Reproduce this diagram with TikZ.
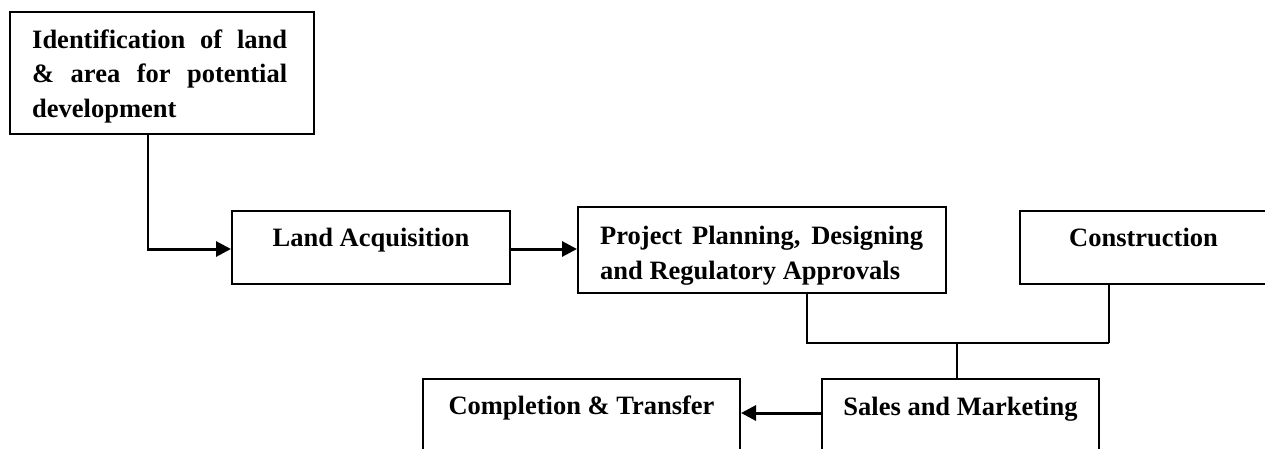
\documentclass[tikz,border=0pt]{standalone}
\usepackage{fontspec}
\setmainfont{Liberation Serif}
\usetikzlibrary{arrows.meta}
\begin{document}
\begin{tikzpicture}[x=1pt,y=-1pt,
  box/.style={draw, line width=2pt, rectangle, inner sep=0pt},
  lbl/.style={inner sep=0pt, font=\fontsize{26.5pt}{34.5pt}\selectfont\bfseries},
  arr/.style={line width=3pt, -{Triangle[length=15pt,width=15pt]}},
  conn/.style={line width=1.8pt}]
\useasboundingbox (0,0) rectangle (1265,448);
\clip (0,0) rectangle (1265,448);
\fill[white] (0,0) rectangle (1265,448);
% boxes
\node[box, minimum width=304pt, minimum height=122pt] (ident) at (162,73) {};
\node[box, minimum width=278pt, minimum height=73pt] (land) at (371,247.5) {};
\node[box, minimum width=368pt, minimum height=86pt] (proj) at (762,250) {};
\node[box, minimum width=250pt, minimum height=73pt] (con) at (1145,247.5) {};
\node[box, minimum width=277pt, minimum height=81pt] (sales) at (960.5,419.5) {};
\node[box, minimum width=317pt, minimum height=81pt] (comp) at (581.5,419.5) {};
% texts
\node[lbl, anchor=base west, align=left] at (32,117)
  {\makebox[255pt][s]{Identification of land}\\\makebox[255pt][s]{\& area for potential}\\development};
\node[lbl, anchor=base] at (371,246) {Land Acquisition};
\node[lbl, anchor=base west, align=left] at (600,279)
  {\makebox[323pt][s]{Project Planning, Designing}\\and Regulatory Approvals};
\node[lbl, anchor=base] at (1143.5,246) {Construction};
\node[lbl, anchor=base] at (960.5,415) {Sales and Marketing};
\node[lbl, anchor=base] at (581.5,414) {Completion \& Transfer};
% connectors
\coordinate (c1) at (148,249);
\draw[conn] ([xshift=-14pt]ident.south) -- (c1);
\draw[arr] ([xshift=-0.9pt]c1) -- (c1 -| land.west);
\draw[arr] ([yshift=-1.5pt]land.east) -- ([yshift=-1.5pt]land.east -| proj.west);
\coordinate (jL) at (807,343);
\coordinate (jR) at (1109,343);
\coordinate (jM) at (957,343);
\draw[conn] (proj.south -| jL) -- (jL) -- (jR);
\draw[conn] (con.south -| jR) -- (jR);
\draw[conn] (jM) -- (jM |- sales.north);
\draw[arr] ([yshift=6.5pt]sales.west) -- ([yshift=6.5pt]sales.west -| comp.east);
\end{tikzpicture}
\end{document}
